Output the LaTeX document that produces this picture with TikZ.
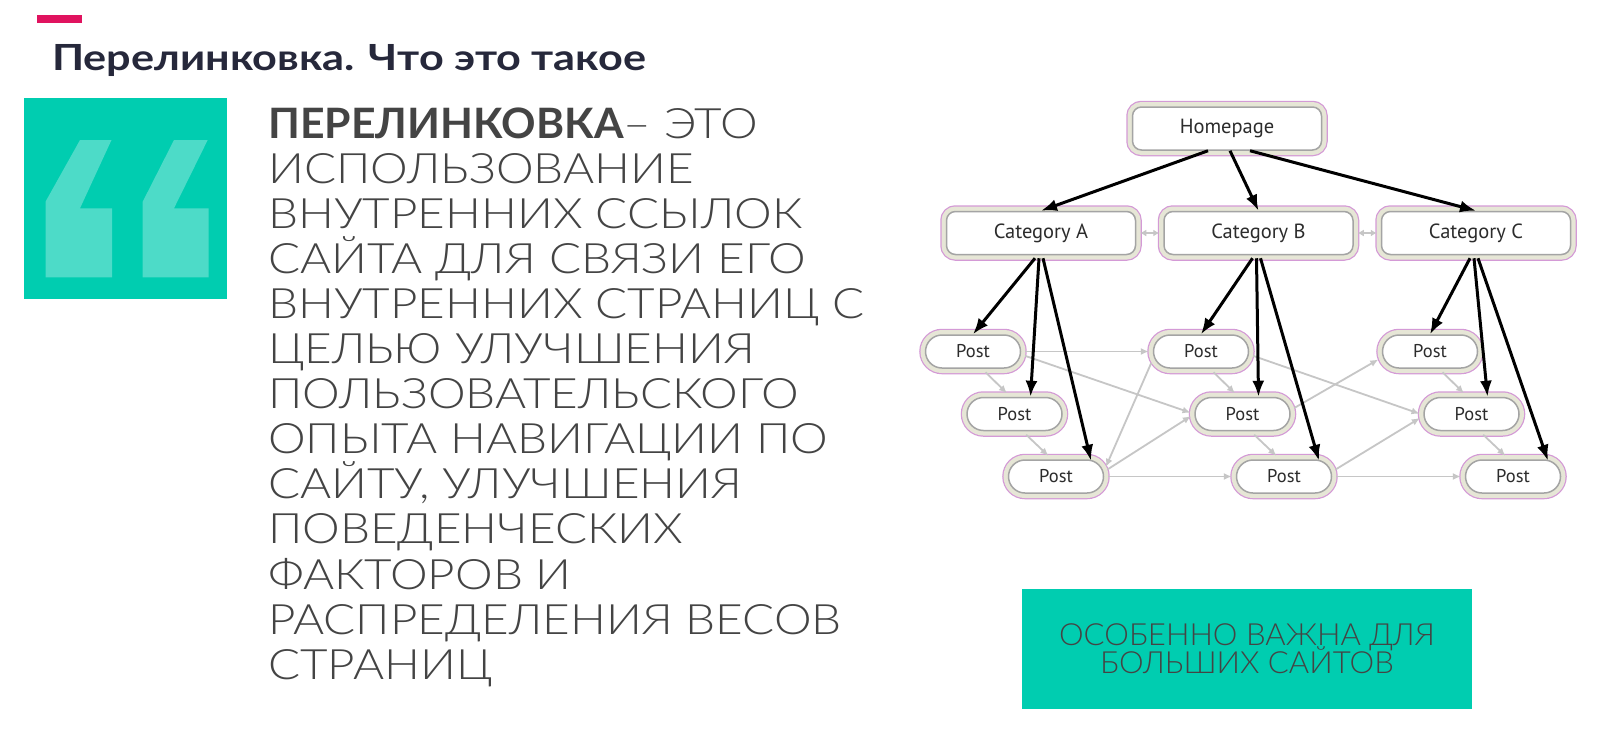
\documentclass[tikz,border=0pt]{standalone}
\usepackage{fontspec}
\setmainfont{Lato}
\newfontfamily\bodyfont[FakeStretch=1.135]{Lato Light}
\newfontfamily\bodybold[FakeStretch=1.02]{Lato}
\newfontfamily\boxfont[FakeStretch=1.02]{Lato Light}
\newfontfamily\titlefont[FakeStretch=1.2]{Lato}
\newfontfamily\nodefont{PT Sans}
\usetikzlibrary{arrows.meta,calc}
\definecolor{tealbox}{HTML}{00CDB0}
\definecolor{quotemark}{HTML}{4DDBC8}
\definecolor{pinkbar}{HTML}{E0135F}
\definecolor{titlecol}{HTML}{26283B}
\definecolor{bodycol}{HTML}{444444}
\definecolor{ringpink}{HTML}{D49AD6}
\definecolor{ringfill}{HTML}{E6E6D6}
\definecolor{innergray}{HTML}{A4A4A4}
\definecolor{arrowgray}{HTML}{C6C6C6}
\definecolor{nodetext}{HTML}{2C2C2C}
\tikzset{
  ringed/.style={preaction={draw=ringpink, line width=12.5pt},
                 preaction={draw=ringfill, line width=10pt},
                 fill=white, draw=innergray, line width=1.5pt,
                 text=nodetext, inner sep=0pt},
  bigbox/.style={ringed, rectangle, rounded corners=9pt,
                 minimum width=189pt, minimum height=43pt,
                 font=\nodefont\fontsize{20.5}{23}\selectfont},
  postbox/.style={ringed, rectangle, rounded corners=16.5pt,
                 minimum width=95pt, minimum height=33pt,
                 font=\nodefont\fontsize{18.5}{21}\selectfont},
  blk/.style={draw=black, line width=3pt, -{Latex[length=16pt,width=12pt]}},
  gry/.style={draw=arrowgray, line width=1.8pt, -{Latex[length=8pt,width=7pt]},
              shorten >=4pt, shorten <=4pt},
  gryv/.style={draw=arrowgray, line width=1.8pt, -{Latex[length=8pt,width=7pt]},
              shorten >=5pt, shorten <=5pt},
  bodyline/.style={anchor=base west, inner sep=0pt, text=bodycol,
                 font=\bodyfont\fontsize{41.9}{45}\selectfont},
  boxline/.style={anchor=base, inner sep=0pt, text=bodycol,
                 font=\boxfont\fontsize{30.5}{34}\selectfont}
}
\begin{document}
\begin{tikzpicture}[x=1pt,y=-1pt]
\useasboundingbox (0,0) rectangle (1600,747);
\fill[white] (0,0) rectangle (1600,747);

% pink bar and title
\fill[pinkbar] (37,15) rectangle (82,23);
\node[anchor=base west, inner sep=0pt, text=titlecol,
      font=\titlefont\bfseries\fontsize{36}{40}\selectfont] (title) at (52,70)
      {Перелинковка. Что это такое};

% quote box
\fill[tealbox] (24,98) rectangle (227,299);
\fill[quotemark] (80,140) -- (111.5,140) -- (80,208.3) -- (112,208.3) -- (112,277.3)
   -- (45.5,277.3) -- (45.5,201.7) -- cycle;
\fill[quotemark] (174,140) -- (207.7,140) -- (174,208.3) -- (208.6,208.3) -- (208.6,277.3)
   -- (142.7,277.3) -- (142.7,201.7) -- cycle;

% main text
\node[bodyline] (t1) at (268,138) {{\bodybold\bfseries ПЕРЕЛИНКОВКА}– ЭТО};
\node[bodyline] (t2) at (268,183.1) {ИСПОЛЬЗОВАНИЕ};
\node[bodyline] (t3) at (268,228.2) {ВНУТРЕННИХ ССЫЛОК};
\node[bodyline] (t4) at (268,273.3) {САЙТА ДЛЯ СВЯЗИ ЕГО};
\node[bodyline] (t5) at (268,318.4) {ВНУТРЕННИХ СТРАНИЦ С};
\node[bodyline] (t6) at (268,363.5) {ЦЕЛЬЮ УЛУЧШЕНИЯ};
\node[bodyline] (t7) at (268,408.6) {ПОЛЬЗОВАТЕЛЬСКОГО};
\node[bodyline] (t8) at (268,453.7) {ОПЫТА НАВИГАЦИИ ПО};
\node[bodyline] (t9) at (268,498.8) {САЙТУ, УЛУЧШЕНИЯ};
\node[bodyline] (t10) at (268,543.9) {ПОВЕДЕНЧЕСКИХ};
\node[bodyline] (t11) at (268,589.0) {ФАКТОРОВ И};
\node[bodyline] (t12) at (268,634.1) {РАСПРЕДЕЛЕНИЯ ВЕСОВ};
\node[bodyline] (t13) at (268,679.2) {СТРАНИЦ};

% bottom box
\fill[tealbox] (1022,589) rectangle (1472,709);
\node[boxline] (b1) at (1247,645) {ОСОБЕННО ВАЖНА ДЛЯ};
\node[boxline] (b2) at (1247,673) {БОЛЬШИХ САЙТОВ};

% diagram nodes
\node[bigbox] (H) at (1227,128.5) {Homepage};
\node[bigbox] (A) at (1041,233) {Category A};
\node[bigbox] (B) at (1258.5,233) {Category B};
\node[bigbox] (C) at (1476,233) {Category C};

\node[postbox] (A1) at (973,351.5) {Post};
\node[postbox] (A2) at (1014.5,414) {Post};
\node[postbox] (A3) at (1056,476.5) {Post};
\node[postbox] (B1) at (1201,351.5) {Post};
\node[postbox] (B2) at (1242.5,414) {Post};
\node[postbox] (B3) at (1284,476.5) {Post};
\node[postbox] (C1) at (1430,351.5) {Post};
\node[postbox] (C2) at (1471.5,414) {Post};
\node[postbox] (C3) at (1513,476.5) {Post};

% gray connectors
\draw[gry, {Latex[length=6pt,width=7pt]}-{Latex[length=6pt,width=7pt]}] (A.east) -- (B.west);
\draw[gry, {Latex[length=6pt,width=7pt]}-{Latex[length=6pt,width=7pt]}] (B.east) -- (C.west);

\foreach \c in {A,B,C}{
  \draw[gryv] ([xshift=9pt]\c1.south) -- ([xshift=-4pt]\c2.north);
  \draw[gryv] ([xshift=8pt]\c2.south) -- ([xshift=-4pt]\c3.north);
}
\draw[gry] (A1.east) -- (B1.west);
\draw[gry] ([yshift=-3pt]A1.east) -- (B2.west);
\draw[gry] ([yshift=-8pt]B1.west) -- ([yshift=6pt]A3.east);
\draw[gry] ([yshift=5pt]A3.east) -- (B2.west);
\draw[gry] (A3.east) -- (B3.west);
\draw[gry] ([yshift=-3pt]B1.east) -- ([yshift=-1pt]C2.west);
\draw[gry] ([yshift=4pt]B2.east) -- ([yshift=-6pt]C1.west);
\draw[gry] ([yshift=5pt]B3.east) -- ([yshift=-2pt]C2.west);
\draw[gry] (B3.east) -- (C3.west);

% black connectors
\draw[blk] ([xshift=-19pt]H.south) -- (A.north);
\draw[blk] ([xshift=3pt]H.south) -- (B.north);
\draw[blk] ([xshift=23pt]H.south) -- (C.north);
\foreach \c in {A,B,C}{
  \draw[blk] ([xshift=-6pt,yshift=-3pt]\c.south) -- (\c1.north);
  \draw[blk] ([xshift=-2pt,yshift=-3pt]\c.south) -- ([xshift=16pt]\c2.north);
  \draw[blk] ([xshift=2pt,yshift=-3pt]\c.south) -- ([xshift=35pt,yshift=-1.5pt]\c3.north);
}
\end{tikzpicture}
\end{document}
